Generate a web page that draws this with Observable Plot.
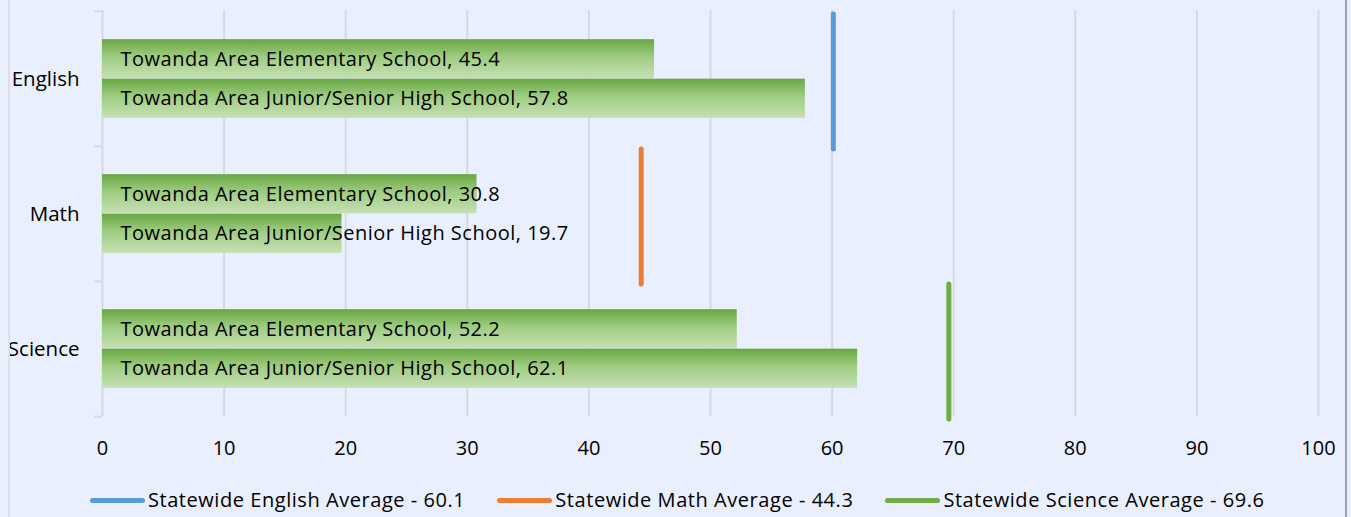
<!DOCTYPE html>
<html><head>
<meta charset="utf-8">
<script src="https://cdn.jsdelivr.net/npm/d3@7"></script>
<script src="https://cdn.jsdelivr.net/npm/@observablehq/plot@0.6"></script>
<style>
html,body{margin:0;padding:0;background:#E9EFFC;}
#wrap{position:relative;width:1351px;height:517px;overflow:hidden;font-family:"Open Sans",sans-serif;color:#000;}
#frame{position:absolute;left:8px;top:0;width:1339px;height:517px;border-left:2px solid #DADFE8;border-right:2px solid #9EA3AD;box-sizing:border-box;pointer-events:none;}
#chart{position:absolute;left:0;top:0;}
#legend{position:absolute;top:485px;left:90px;width:max-content;display:flex;gap:32px;font-size:20px;letter-spacing:0.55px;line-height:30px;white-space:nowrap;}
.item{display:flex;align-items:center;flex-shrink:0;}
.swatch{flex:0 0 55px;width:55px;height:5px;border-radius:3px;margin-right:3px;}
</style>
</head><body>
<div id="wrap"><div id="chart"></div><div id="legend"></div><div id="frame"></div></div>
<script>
const subjects = ["English", "Math", "Science"];
const schools = ["Towanda Area Elementary School", "Towanda Area Junior/Senior High School"];
const elementary = [45.4, 30.8, 52.2];
const juniorSenior = [57.8, 19.7, 62.1];
const statewide = [60.1, 44.3, 69.6];
const avgLabels = ["Statewide English Average - 60.1", "Statewide Math Average - 44.3", "Statewide Science Average - 69.6"];
const avgColors = ["#5B9BD5", "#ED7D31", "#70AD47"];
const xTicks = [0, 10, 20, 30, 40, 50, 60, 70, 80, 90, 100];

const W = 1351, H = 470, mTop = 10, mBottom = 54, mLeft = 102, mRight = 33;
const bandH = (H - mTop - mBottom) / subjects.length;
const barH = 39.5;
const outer = (bandH - 2 * barH) / 2;

const elemRows = subjects.map((s, i) => ({subject: s, school: schools[0], value: elementary[i]}));
const jrRows = subjects.map((s, i) => ({subject: s, school: schools[1], value: juniorSenior[i]}));
const avgRows = subjects.map((s, i) => ({subject: s, value: statewide[i], color: avgColors[i]}));

const font = '"Open Sans", sans-serif';
const plot = Plot.plot({
  width: W, height: H,
  marginTop: mTop, marginBottom: mBottom, marginLeft: mLeft, marginRight: mRight,
  style: {background: "transparent", fontFamily: font, fontSize: "20px", color: "#000"},
  x: {domain: [0, 100], ticks: xTicks, tickSize: 0, tickPadding: 24, label: null},
  y: {domain: subjects, padding: 0, axis: null},
  marks: [
    Plot.ruleX(xTicks, {stroke: "#D4D9E3", strokeWidth: 2}),
    Plot.ruleY(subjects, {y: d => d, x1: -0.66, x2: 0, dy: -bandH / 2, stroke: "#D4D9E3", strokeWidth: 2}),
    Plot.ruleY(subjects.slice(-1), {y: d => d, x1: -0.66, x2: 0, dy: bandH / 2, stroke: "#D4D9E3", strokeWidth: 2}),
    Plot.axisY({tickSize: 0, tickPadding: 23, label: null, fontSize: 20.5}),
    Plot.barX(elemRows, {x: "value", y: "subject", fill: "url(#barGrad)", insetTop: outer, insetBottom: bandH - outer - barH}),
    Plot.barX(jrRows, {x: "value", y: "subject", fill: "url(#barGrad)", insetTop: outer + barH, insetBottom: outer}),
    ...avgRows.map(r => Plot.ruleX([r], {x: "value", y1: "subject", y2: "subject", stroke: r.color, strokeWidth: 5, strokeLinecap: "round", dy: 3})),
    Plot.text(elemRows, {x: 0, y: "subject", text: d => `${d.school}, ${d.value}`, textAnchor: "start", dx: 18, dy: -barH / 2, fill: "#000", fontSize: 20}),
    Plot.text(jrRows, {x: 0, y: "subject", text: d => `${d.school}, ${d.value}`, textAnchor: "start", dx: 18, dy: barH / 2, fill: "#000", fontSize: 20})
  ]
});

plot.querySelectorAll("text").forEach(t => {
  if (t.textContent.startsWith("Towanda")) t.setAttribute("letter-spacing", "0.5px");
});
const defs = document.createElementNS("http://www.w3.org/2000/svg", "defs");
defs.innerHTML = `<linearGradient id="barGrad" x1="0" y1="0" x2="0" y2="1">
  <stop offset="0" stop-color="#68A741"/>
  <stop offset="0.45" stop-color="#9FCC82"/>
  <stop offset="1" stop-color="#C6E0B4"/>
</linearGradient>`;
plot.insertBefore(defs, plot.firstChild);
document.getElementById("chart").appendChild(plot);

const legend = document.getElementById("legend");
avgLabels.forEach((t, i) => {
  const it = document.createElement("div");
  it.className = "item";
  it.innerHTML = `<span class="swatch" style="background:${avgColors[i]}"></span><span>${t}</span>`;
  legend.appendChild(it);
});
</script>
</body></html>
